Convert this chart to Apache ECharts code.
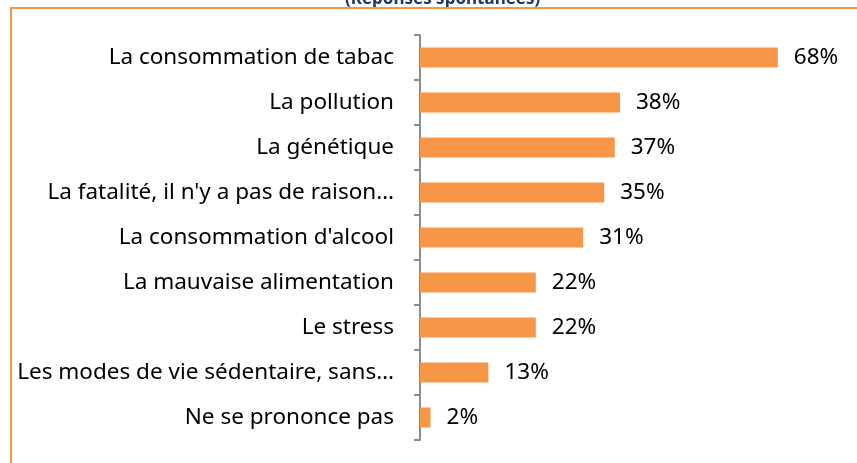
<!DOCTYPE html>
<html>
<head>
<meta charset="utf-8">
<script src="https://cdn.jsdelivr.net/npm/echarts@6/dist/echarts.min.js"></script>
<style>
  html, body { margin: 0; padding: 0; background: #fff; }
  #chart { width: 857px; height: 463px; position: relative; }
  #frame {
    position: absolute; left: 10px; top: 7px; right: 0; bottom: 0;
    border-left: 2px solid #f79646; border-top: 2px solid #f79646;
    pointer-events: none;
  }
</style>
</head>
<body>
<div id="chart"></div>
<div id="frame"></div>
<script>
// categories, top to bottom as shown
const categories = [
  'La consommation de tabac',
  'La pollution',
  'La génétique',
  "La fatalité, il n'y a pas de raison…",
  "La consommation d'alcool",
  'La mauvaise alimentation',
  'Le stress',
  'Les modes de vie sédentaire, sans…',
  'Ne se prononce pas'
]
const values = [68, 38, 37, 35, 31, 22, 22, 13, 2]
const titleText = '(Réponses spontanées)'

const chart = echarts.init(document.getElementById('chart'))
const font = 'Noto Sans'

chart.setOption({
  animation: false,
  title: {
    text: titleText,
    left: 340,
    top: -14,
    textStyle: { color: '#1f3864', fontSize: 17, fontWeight: 'bold', fontFamily: font }
  },
  grid: { left: 420, right: 16, top: 35, bottom: 23 },
  xAxis: {
    type: 'value',
    min: 0,
    max: 80,
    show: false
  },
  yAxis: {
    type: 'category',
    inverse: true,
    data: categories,
    axisLine: { show: true, lineStyle: { color: '#8c8c8c', width: 2 } },
    axisTick: { show: true, alignWithLabel: false, length: 6, lineStyle: { color: '#8c8c8c', width: 2 } },
    axisLabel: { margin: 26, color: '#000', fontSize: 22.5, fontFamily: font }
  },
  series: [{
    type: 'bar',
    data: values,
    barWidth: 20,
    itemStyle: { color: '#f79646' },
    label: {
      show: true,
      position: 'right',
      distance: 16,
      formatter: p => p.value + '%',
      color: '#000',
      fontSize: 22.5,
      fontFamily: font
    }
  }]
})
</script>
</body>
</html>
